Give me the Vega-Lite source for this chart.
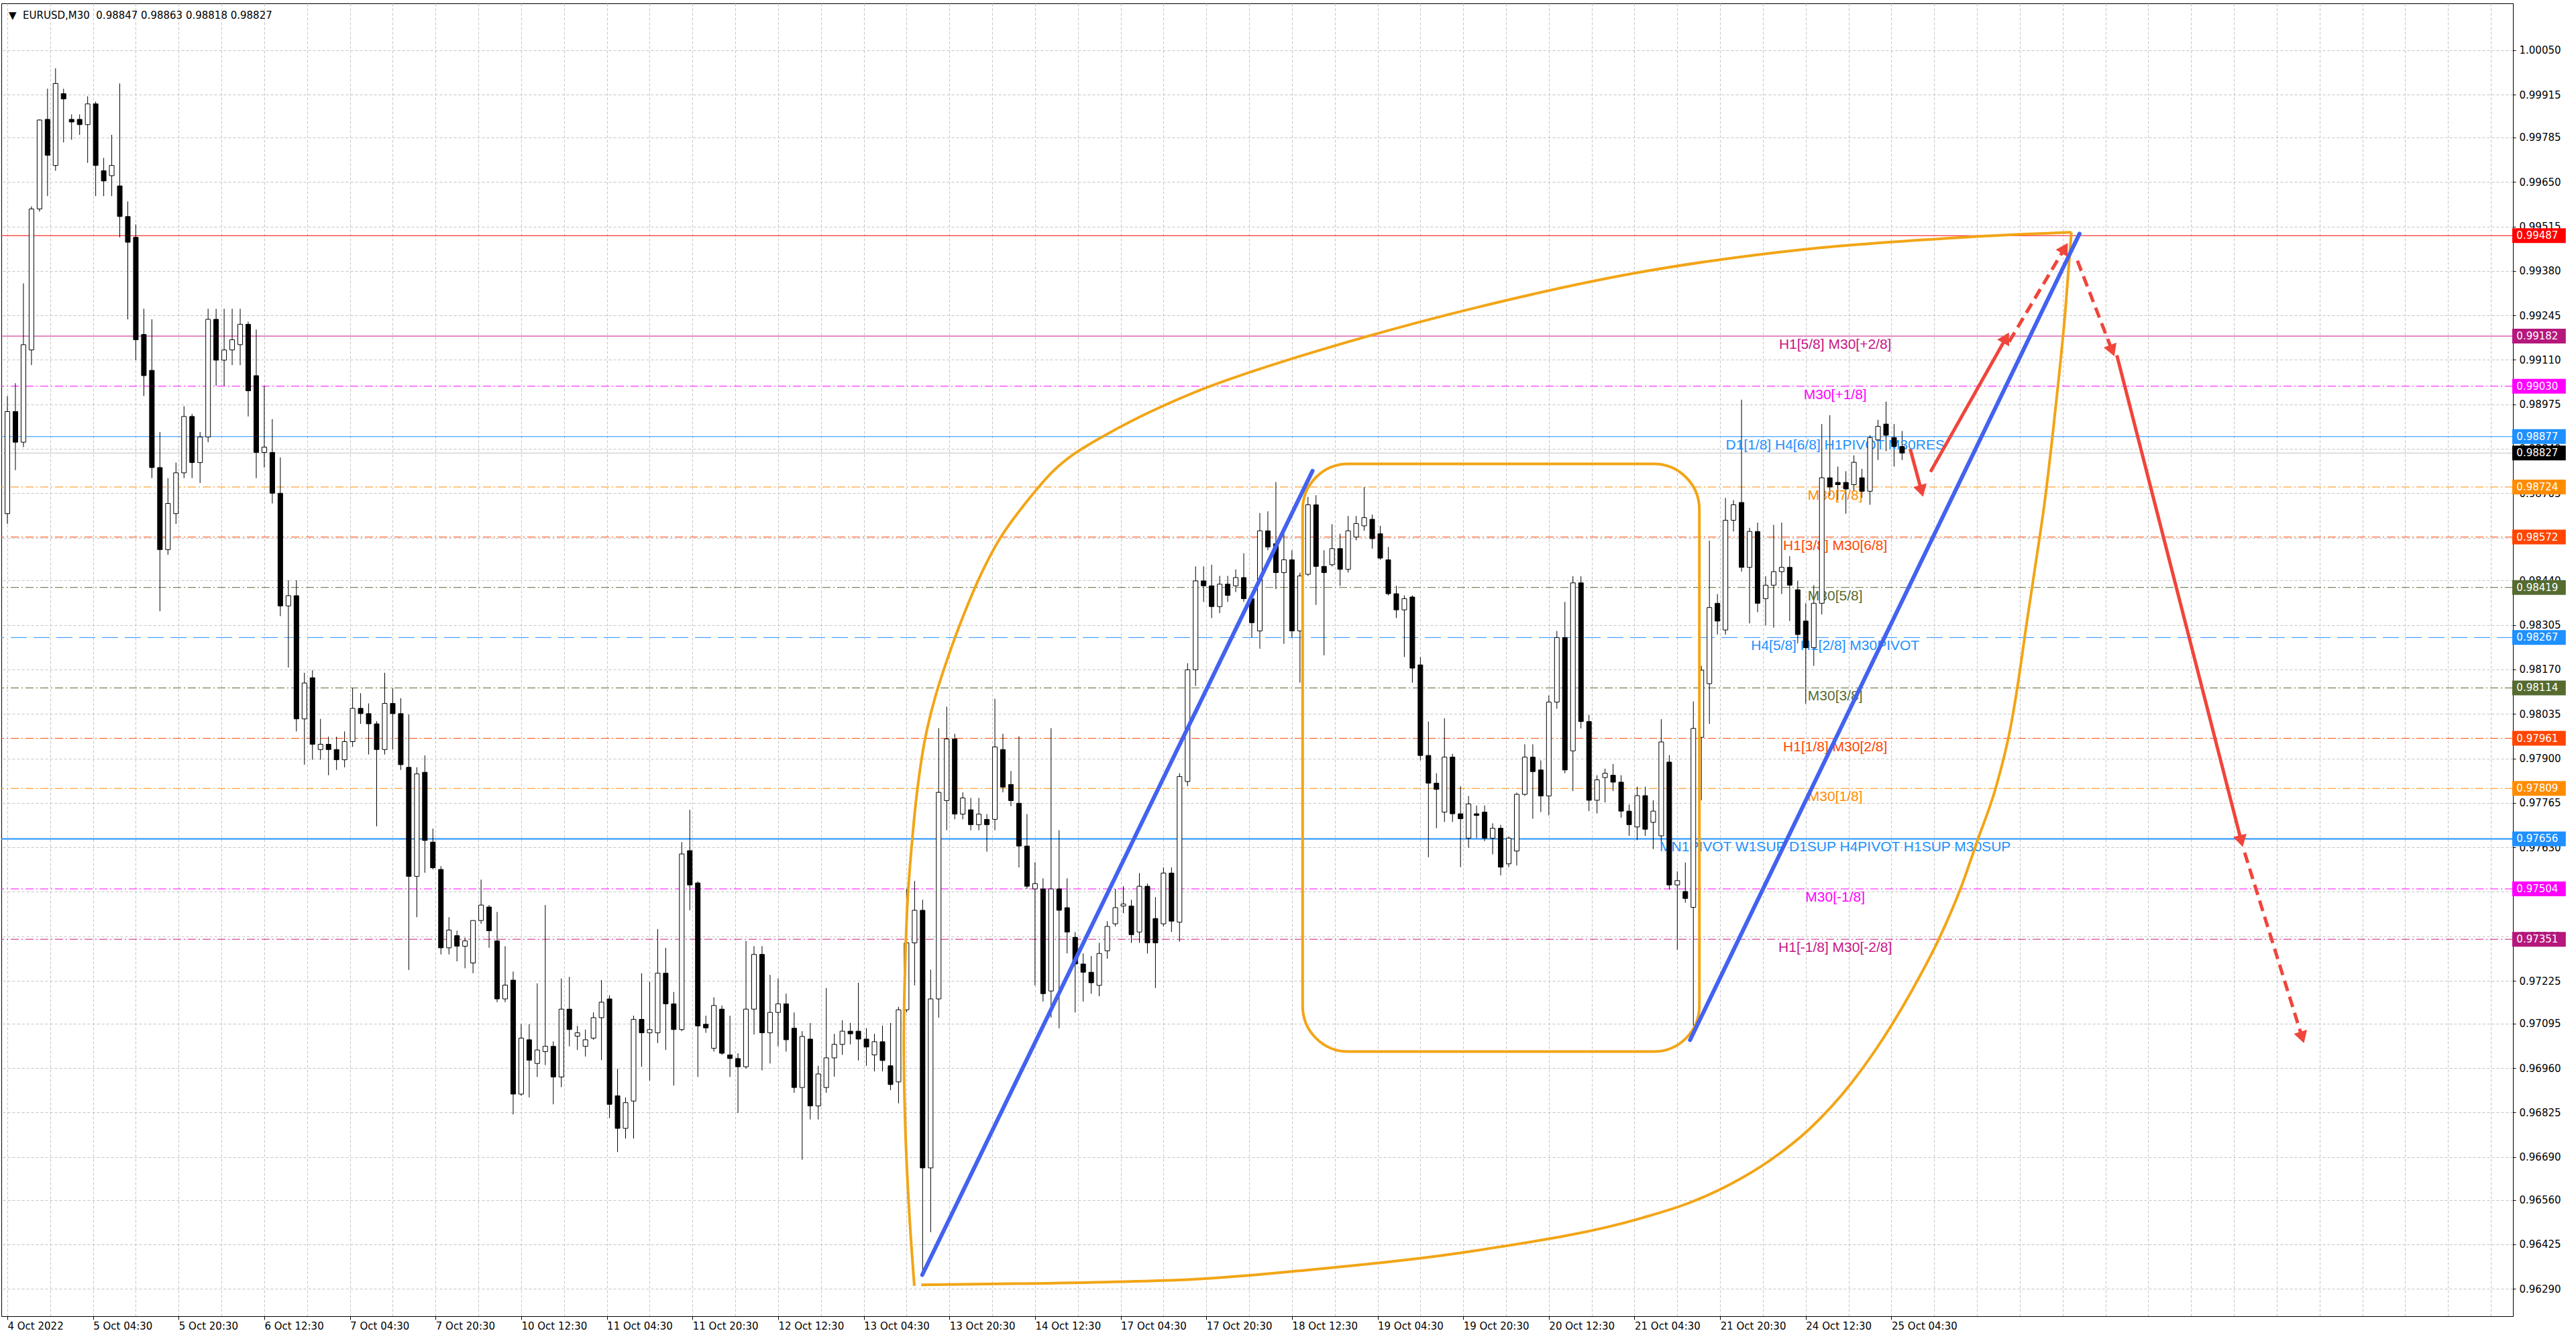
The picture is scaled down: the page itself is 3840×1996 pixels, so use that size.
{
"$schema":"https://vega.github.io/schema/vega-lite/v6.json",
"width":3744,"height":1957,
"autosize":{"type":"none"},
"padding":{"left":2,"top":5,"right":94,"bottom":34},
"background":"#ffffff",
"view":{"stroke":"#000000","strokeWidth":1},
"config":{
 "axisX":{"labelAlign":"left","labelBaseline":"top","labelPadding":2,"tickSize":5,"labelFont":"DejaVu Sans","labelFontSize":15,"labelColor":"#000000","tickColor":"#000000","domainColor":"#000000","grid":true,"gridColor":"#C4C4C4","gridDash":[4,3],"labelOverlap":false,"labelBound":false,"labelFlush":false},
 "axisY":{"labelPadding":5,"tickSize":4,"labelFont":"DejaVu Sans","labelFontSize":15,"labelColor":"#000000","tickColor":"#000000","domainColor":"#000000","grid":true,"gridColor":"#C4C4C4","gridDash":[4,3],"labelOverlap":false,"labelBound":false,"labelFlush":false}
},
"datasets":{
"header":[{"txt":"▼\u00a0\u00a0EURUSD,M30\u00a0\u00a00.98847 0.98863 0.98818 0.98827"}],
"candles":[
{"t":1,"o":0.98643,"h":0.99,"l":0.98612,"c":0.98953},{"t":4,"o":0.98953,"h":0.99039,"l":0.98775,"c":0.9886},{"t":7,"o":0.9886,"h":0.99342,"l":0.98845,"c":0.99156},{"t":10,"o":0.9914,"h":0.99576,"l":0.99094,"c":0.99568},{"t":13,"o":0.99568,"h":0.9984,"l":0.9956,"c":0.99838},{"t":16,"o":0.9984,"h":0.99933,"l":0.99607,"c":0.99731},{"t":19,"o":0.997,"h":0.99995,"l":0.99684,"c":0.99949},{"t":22,"o":0.99918,"h":0.99933,"l":0.9977,"c":0.99902},{"t":25,"o":0.9984,"h":0.99855,"l":0.99778,"c":0.99832},{"t":28,"o":0.9984,"h":0.99855,"l":0.99793,"c":0.99824},{"t":31,"o":0.99824,"h":0.9991,"l":0.99708,"c":0.99887},{"t":34,"o":0.99887,"h":0.99894,"l":0.99607,"c":0.997},{"t":37,"o":0.99684,"h":0.99723,"l":0.99607,"c":0.99653},{"t":40,"o":0.99669,"h":0.99793,"l":0.99607,"c":0.997},{"t":43,"o":0.99638,"h":0.99949,"l":0.99482,"c":0.99545},{"t":46,"o":0.99545,"h":0.99591,"l":0.99233,"c":0.99467},{"t":49,"o":0.99482,"h":0.99521,"l":0.99109,"c":0.99171},{"t":52,"o":0.99187,"h":0.99265,"l":0.99,"c":0.99062},{"t":55,"o":0.99078,"h":0.99233,"l":0.98751,"c":0.98783},{"t":58,"o":0.98783,"h":0.98891,"l":0.98347,"c":0.98534},{"t":61,"o":0.98534,"h":0.98751,"l":0.98518,"c":0.98674},{"t":64,"o":0.98643,"h":0.98798,"l":0.98612,"c":0.98767},{"t":67,"o":0.98767,"h":0.98969,"l":0.98751,"c":0.98938},{"t":70,"o":0.98938,"h":0.98946,"l":0.98751,"c":0.98798},{"t":73,"o":0.98798,"h":0.98891,"l":0.98736,"c":0.98876},{"t":76,"o":0.98876,"h":0.99265,"l":0.9886,"c":0.99233},{"t":79,"o":0.99233,"h":0.99265,"l":0.99031,"c":0.99109},{"t":82,"o":0.99109,"h":0.99265,"l":0.99031,"c":0.9914},{"t":85,"o":0.9914,"h":0.99265,"l":0.99094,"c":0.99171},{"t":88,"o":0.99156,"h":0.99265,"l":0.99094,"c":0.99218},{"t":91,"o":0.99218,"h":0.99226,"l":0.98938,"c":0.99016},{"t":94,"o":0.99062,"h":0.99202,"l":0.98751,"c":0.98829},{"t":97,"o":0.98829,"h":0.99031,"l":0.98783,"c":0.98845},{"t":100,"o":0.98829,"h":0.9893,"l":0.98674,"c":0.98705},{"t":103,"o":0.98705,"h":0.98814,"l":0.98332,"c":0.98363},{"t":106,"o":0.98363,"h":0.98441,"l":0.98176,"c":0.98394},{"t":109,"o":0.98394,"h":0.98441,"l":0.97982,"c":0.9802},{"t":112,"o":0.9802,"h":0.9816,"l":0.97881,"c":0.98129},{"t":115,"o":0.98145,"h":0.98168,"l":0.97896,"c":0.97943},{"t":118,"o":0.97927,"h":0.9802,"l":0.97896,"c":0.97943},{"t":121,"o":0.97943,"h":0.97966,"l":0.97849,"c":0.97927},{"t":124,"o":0.97927,"h":0.97966,"l":0.97865,"c":0.97896},{"t":127,"o":0.97896,"h":0.97982,"l":0.97873,"c":0.97951},{"t":130,"o":0.97951,"h":0.98114,"l":0.97935,"c":0.98052},{"t":133,"o":0.98052,"h":0.98098,"l":0.98005,"c":0.98036},{"t":136,"o":0.98036,"h":0.98067,"l":0.97912,"c":0.98005},{"t":139,"o":0.98005,"h":0.98013,"l":0.97694,"c":0.97927},{"t":142,"o":0.97927,"h":0.9816,"l":0.97912,"c":0.98067},{"t":145,"o":0.98067,"h":0.98114,"l":0.97927,"c":0.98036},{"t":148,"o":0.98036,"h":0.98083,"l":0.97865,"c":0.97881},
{"t":151,"o":0.97873,"h":0.98033,"l":0.97258,"c":0.97542},{"t":154,"o":0.97542,"h":0.97873,"l":0.97418,"c":0.97853},{"t":157,"o":0.97858,"h":0.97909,"l":0.97553,"c":0.97651},{"t":160,"o":0.97646,"h":0.97687,"l":0.97563,"c":0.97568},{"t":163,"o":0.97563,"h":0.97573,"l":0.97305,"c":0.97325},{"t":166,"o":0.97325,"h":0.97418,"l":0.97305,"c":0.97379},{"t":169,"o":0.97362,"h":0.97377,"l":0.97284,"c":0.9733},{"t":172,"o":0.9733,"h":0.97356,"l":0.97263,"c":0.97346},{"t":175,"o":0.97279,"h":0.97408,"l":0.97248,"c":0.97408},{"t":178,"o":0.97408,"h":0.97532,"l":0.97398,"c":0.97455},{"t":181,"o":0.97449,"h":0.97455,"l":0.97325,"c":0.97377},{"t":184,"o":0.97346,"h":0.97434,"l":0.9716,"c":0.9717},{"t":187,"o":0.9717,"h":0.9733,"l":0.9716,"c":0.97212},{"t":190,"o":0.97227,"h":0.97253,"l":0.96819,"c":0.96881},{"t":193,"o":0.96881,"h":0.97093,"l":0.96876,"c":0.97051},{"t":196,"o":0.97046,"h":0.97093,"l":0.96871,"c":0.96984},{"t":199,"o":0.96974,"h":0.97217,"l":0.96933,"c":0.97015},{"t":202,"o":0.9701,"h":0.97455,"l":0.96969,"c":0.97026},{"t":205,"o":0.97026,"h":0.97041,"l":0.9685,"c":0.96933},{"t":208,"o":0.96933,"h":0.97232,"l":0.96902,"c":0.97139},{"t":211,"o":0.97139,"h":0.97237,"l":0.97026,"c":0.97077},{"t":214,"o":0.97057,"h":0.97088,"l":0.97015,"c":0.97067},{"t":217,"o":0.97026,"h":0.97077,"l":0.96995,"c":0.97046},{"t":220,"o":0.97051,"h":0.97129,"l":0.97046,"c":0.97113},{"t":223,"o":0.97113,"h":0.97227,"l":0.96984,"c":0.9716},{"t":226,"o":0.9717,"h":0.97181,"l":0.96808,"c":0.9685},{"t":229,"o":0.96876,"h":0.96958,"l":0.96705,"c":0.96777},{"t":232,"o":0.96777,"h":0.96871,"l":0.96746,"c":0.96855},{"t":235,"o":0.9686,"h":0.97119,"l":0.96746,"c":0.97108},{"t":238,"o":0.97108,"h":0.97248,"l":0.96964,"c":0.97067},{"t":241,"o":0.97067,"h":0.97222,"l":0.96922,"c":0.97077},{"t":244,"o":0.97067,"h":0.97382,"l":0.97036,"c":0.97248},{"t":247,"o":0.97248,"h":0.97325,"l":0.97015,"c":0.97155},{"t":250,"o":0.97155,"h":0.97191,"l":0.96907,"c":0.97077},{"t":253,"o":0.97077,"h":0.97646,"l":0.97072,"c":0.9761},{"t":256,"o":0.9762,"h":0.97744,"l":0.97439,"c":0.97516},{"t":259,"o":0.97522,"h":0.97527,"l":0.96933,"c":0.97088},{"t":262,"o":0.97093,"h":0.97119,"l":0.97067,"c":0.97082},{"t":265,"o":0.9702,"h":0.97175,"l":0.9701,"c":0.9715},{"t":268,"o":0.97139,"h":0.9715,"l":0.97,"c":0.97005},{"t":271,"o":0.97,"h":0.97119,"l":0.96933,"c":0.96989},{"t":274,"o":0.96989,"h":0.97005,"l":0.96824,"c":0.96964},{"t":277,"o":0.96964,"h":0.97346,"l":0.96958,"c":0.97139},{"t":280,"o":0.97139,"h":0.9733,"l":0.97062,"c":0.97305},{"t":283,"o":0.97305,"h":0.9733,"l":0.96953,"c":0.97067},{"t":286,"o":0.97067,"h":0.97243,"l":0.96974,"c":0.97129},{"t":289,"o":0.97129,"h":0.97232,"l":0.97026,"c":0.97155},{"t":292,"o":0.97155,"h":0.97186,"l":0.9701,"c":0.97046},
{"t":295,"o":0.97081,"h":0.97129,"l":0.96885,"c":0.96901},{"t":298,"o":0.96901,"h":0.97072,"l":0.96682,"c":0.97056},{"t":301,"o":0.97048,"h":0.97097,"l":0.96804,"c":0.96845},{"t":304,"o":0.96845,"h":0.96967,"l":0.96804,"c":0.96942},{"t":307,"o":0.96901,"h":0.97203,"l":0.96885,"c":0.96991},{"t":310,"o":0.96991,"h":0.97064,"l":0.96934,"c":0.97032},{"t":313,"o":0.97032,"h":0.97105,"l":0.97,"c":0.97072},{"t":316,"o":0.97072,"h":0.97097,"l":0.97032,"c":0.97064},{"t":319,"o":0.97072,"h":0.97219,"l":0.96983,"c":0.97048},{"t":322,"o":0.97048,"h":0.97081,"l":0.96967,"c":0.97024},{"t":325,"o":0.97,"h":0.97064,"l":0.9695,"c":0.9704},{"t":328,"o":0.9704,"h":0.97089,"l":0.9695,"c":0.96983},{"t":331,"o":0.96967,"h":0.97097,"l":0.96893,"c":0.9691},{"t":334,"o":0.96918,"h":0.97146,"l":0.96853,"c":0.97137},{"t":337,"o":0.97137,"h":0.97504,"l":0.97129,"c":0.9734},{"t":340,"o":0.9734,"h":0.97528,"l":0.97211,"c":0.97439},{"t":343,"o":0.97439,"h":0.97471,"l":0.96332,"c":0.96657},{"t":346,"o":0.96657,"h":0.97259,"l":0.96462,"c":0.9717},{"t":349,"o":0.9717,"h":0.97992,"l":0.97113,"c":0.97797},{"t":352,"o":0.97772,"h":0.98057,"l":0.97682,"c":0.97959},{"t":355,"o":0.97959,"h":0.97975,"l":0.97715,"c":0.97731},{"t":358,"o":0.97731,"h":0.97797,"l":0.97715,"c":0.9778},{"t":361,"o":0.97744,"h":0.9778,"l":0.97682,"c":0.97699},{"t":364,"o":0.97699,"h":0.9778,"l":0.97682,"c":0.97731},{"t":367,"o":0.97715,"h":0.97731,"l":0.97617,"c":0.97699},{"t":370,"o":0.97715,"h":0.98081,"l":0.97682,"c":0.97935},{"t":373,"o":0.97927,"h":0.97975,"l":0.97797,"c":0.97813},{"t":376,"o":0.97821,"h":0.97862,"l":0.97755,"c":0.97772},{"t":379,"o":0.97764,"h":0.97967,"l":0.97569,"c":0.97634},{"t":382,"o":0.97634,"h":0.97731,"l":0.97504,"c":0.97512},{"t":385,"o":0.97504,"h":0.97585,"l":0.97211,"c":0.9752},{"t":388,"o":0.97504,"h":0.97536,"l":0.97162,"c":0.97186},{"t":391,"o":0.97194,"h":0.97992,"l":0.97113,"c":0.97504},{"t":394,"o":0.97504,"h":0.97682,"l":0.97081,"c":0.97439},{"t":397,"o":0.97447,"h":0.97536,"l":0.97308,"c":0.97373},{"t":400,"o":0.97357,"h":0.97373,"l":0.97129,"c":0.97276},{"t":403,"o":0.97276,"h":0.97308,"l":0.97162,"c":0.97251},{"t":406,"o":0.97251,"h":0.973,"l":0.97186,"c":0.97219},{"t":409,"o":0.97211,"h":0.9734,"l":0.97178,"c":0.97308},{"t":412,"o":0.97316,"h":0.97406,"l":0.97292,"c":0.9739},{"t":415,"o":0.97398,"h":0.97504,"l":0.9739,"c":0.97447},{"t":418,"o":0.97452,"h":0.97512,"l":0.9743,"c":0.97458},{"t":421,"o":0.97452,"h":0.97471,"l":0.9734,"c":0.97365},{"t":424,"o":0.97373,"h":0.97552,"l":0.9734,"c":0.97512},{"t":427,"o":0.97512,"h":0.9752,"l":0.97308,"c":0.9734},{"t":430,"o":0.97414,"h":0.97479,"l":0.97203,"c":0.9734},{"t":433,"o":0.97398,"h":0.97569,"l":0.9739,"c":0.97552},{"t":436,"o":0.97552,"h":0.97569,"l":0.97373,"c":0.97406},
{"t":439,"o":0.97403,"h":0.97855,"l":0.97344,"c":0.97845},{"t":442,"o":0.9783,"h":0.98189,"l":0.97816,"c":0.98169},{"t":445,"o":0.98169,"h":0.98483,"l":0.9812,"c":0.98439},{"t":448,"o":0.98439,"h":0.98483,"l":0.98375,"c":0.98424},{"t":451,"o":0.98424,"h":0.98488,"l":0.98326,"c":0.98361},{"t":454,"o":0.98361,"h":0.98454,"l":0.98341,"c":0.98429},{"t":457,"o":0.98429,"h":0.98454,"l":0.98375,"c":0.98395},{"t":460,"o":0.98424,"h":0.98474,"l":0.98405,"c":0.98449},{"t":463,"o":0.98449,"h":0.98523,"l":0.98375,"c":0.98385},{"t":466,"o":0.98385,"h":0.98395,"l":0.98267,"c":0.98312},{"t":469,"o":0.98287,"h":0.98645,"l":0.98233,"c":0.98591},{"t":472,"o":0.98591,"h":0.9865,"l":0.98532,"c":0.98542},{"t":475,"o":0.98552,"h":0.98739,"l":0.98414,"c":0.98464},{"t":478,"o":0.98464,"h":0.98582,"l":0.98248,"c":0.98503},{"t":481,"o":0.98503,"h":0.98532,"l":0.98267,"c":0.98287},{"t":484,"o":0.98287,"h":0.98464,"l":0.9813,"c":0.98454},{"t":487,"o":0.98459,"h":0.98694,"l":0.98454,"c":0.9867},{"t":490,"o":0.9867,"h":0.98699,"l":0.98366,"c":0.98483},{"t":493,"o":0.98483,"h":0.98532,"l":0.98213,"c":0.98464},{"t":496,"o":0.98488,"h":0.98611,"l":0.98483,"c":0.98537},{"t":499,"o":0.98537,"h":0.98582,"l":0.98424,"c":0.98474},{"t":502,"o":0.98474,"h":0.98636,"l":0.98464,"c":0.98591},{"t":505,"o":0.98572,"h":0.98636,"l":0.98562,"c":0.98613},{"t":508,"o":0.98606,"h":0.98724,"l":0.98591,"c":0.98631},{"t":511,"o":0.98626,"h":0.9864,"l":0.98537,"c":0.98567},{"t":514,"o":0.98582,"h":0.98606,"l":0.98503,"c":0.98508},{"t":517,"o":0.98503,"h":0.98542,"l":0.98395,"c":0.984},{"t":520,"o":0.984,"h":0.98424,"l":0.98326,"c":0.98351},{"t":523,"o":0.98351,"h":0.98395,"l":0.98208,"c":0.98385},{"t":526,"o":0.9839,"h":0.98395,"l":0.9813,"c":0.98174},{"t":529,"o":0.98184,"h":0.98208,"l":0.97894,"c":0.97909},{"t":532,"o":0.97909,"h":0.98012,"l":0.976,"c":0.97825},{"t":535,"o":0.97825,"h":0.97855,"l":0.97688,"c":0.97806},{"t":538,"o":0.97737,"h":0.98022,"l":0.97707,"c":0.97904},{"t":541,"o":0.97904,"h":0.97914,"l":0.97707,"c":0.97732},{"t":544,"o":0.97732,"h":0.97816,"l":0.9757,"c":0.97717},{"t":547,"o":0.97658,"h":0.97786,"l":0.97629,"c":0.97762},{"t":550,"o":0.97732,"h":0.97757,"l":0.97658,"c":0.97727},{"t":553,"o":0.97737,"h":0.97757,"l":0.97649,"c":0.97658},{"t":556,"o":0.97658,"h":0.97703,"l":0.97609,"c":0.97688},{"t":559,"o":0.97688,"h":0.97698,"l":0.97545,"c":0.9757},{"t":562,"o":0.9758,"h":0.97663,"l":0.9757,"c":0.97658},{"t":565,"o":0.97619,"h":0.97796,"l":0.97575,"c":0.97791},{"t":568,"o":0.97791,"h":0.97943,"l":0.97786,"c":0.97904},{"t":571,"o":0.97904,"h":0.97943,"l":0.97717,"c":0.9786},{"t":574,"o":0.97865,"h":0.97894,"l":0.97737,"c":0.97786},{"t":577,"o":0.97786,"h":0.98091,"l":0.97727,"c":0.98071},{"t":580,"o":0.98071,"h":0.98287,"l":0.98051,"c":0.98267},{"t":583,"o":0.98267,"h":0.98375,"l":0.97855,"c":0.97865},
{"t":586,"o":0.97923,"h":0.98453,"l":0.97801,"c":0.98433},{"t":589,"o":0.98433,"h":0.98453,"l":0.97991,"c":0.98012},{"t":592,"o":0.98012,"h":0.98032,"l":0.9774,"c":0.97773},{"t":595,"o":0.97773,"h":0.97849,"l":0.97733,"c":0.97835},{"t":598,"o":0.97842,"h":0.97869,"l":0.97767,"c":0.97855},{"t":601,"o":0.97849,"h":0.97883,"l":0.97801,"c":0.97828},{"t":604,"o":0.97828,"h":0.97849,"l":0.9772,"c":0.9774},{"t":607,"o":0.9774,"h":0.9776,"l":0.97665,"c":0.97699},{"t":610,"o":0.97692,"h":0.97814,"l":0.97652,"c":0.97787},{"t":613,"o":0.97787,"h":0.97814,"l":0.97665,"c":0.97685},{"t":616,"o":0.97706,"h":0.97773,"l":0.97625,"c":0.9774},{"t":619,"o":0.97665,"h":0.98019,"l":0.97638,"c":0.9795},{"t":622,"o":0.97889,"h":0.9791,"l":0.97502,"c":0.97516},{"t":625,"o":0.97516,"h":0.97557,"l":0.97319,"c":0.97529},{"t":628,"o":0.97496,"h":0.97584,"l":0.97462,"c":0.97475},{"t":631,"o":0.97448,"h":0.98073,"l":0.97088,"c":0.97991},{"t":634,"o":0.97964,"h":0.98181,"l":0.97773,"c":0.98168},{"t":637,"o":0.98127,"h":0.98561,"l":0.98005,"c":0.98358},{"t":640,"o":0.98371,"h":0.98399,"l":0.98276,"c":0.98317},{"t":643,"o":0.9829,"h":0.98691,"l":0.98276,"c":0.98623},{"t":646,"o":0.98623,"h":0.98684,"l":0.98589,"c":0.9867},{"t":649,"o":0.98677,"h":0.98989,"l":0.98467,"c":0.9848},{"t":652,"o":0.9848,"h":0.986,"l":0.9831,"c":0.98589},{"t":655,"o":0.98589,"h":0.98616,"l":0.98344,"c":0.98371},{"t":658,"o":0.98385,"h":0.98453,"l":0.98304,"c":0.98426},{"t":661,"o":0.98426,"h":0.98609,"l":0.98297,"c":0.98467},{"t":664,"o":0.98467,"h":0.98616,"l":0.98399,"c":0.9848},{"t":667,"o":0.9848,"h":0.98514,"l":0.98317,"c":0.98426},{"t":670,"o":0.98412,"h":0.98439,"l":0.98249,"c":0.98276},{"t":673,"o":0.98317,"h":0.98371,"l":0.98066,"c":0.98236},{"t":676,"o":0.98236,"h":0.98426,"l":0.98181,"c":0.98371},{"t":679,"o":0.98371,"h":0.98915,"l":0.98337,"c":0.98752},{"t":682,"o":0.98752,"h":0.98942,"l":0.98697,"c":0.98724},{"t":685,"o":0.98738,"h":0.98786,"l":0.98684,"c":0.98731},{"t":688,"o":0.98738,"h":0.98772,"l":0.98643,"c":0.98718},{"t":691,"o":0.98731,"h":0.9882,"l":0.98711,"c":0.98799},{"t":694,"o":0.98752,"h":0.98779,"l":0.98691,"c":0.98711},{"t":697,"o":0.98711,"h":0.98881,"l":0.9867,"c":0.98874},{"t":700,"o":0.98867,"h":0.98928,"l":0.98806,"c":0.98908},{"t":703,"o":0.98915,"h":0.98983,"l":0.98833,"c":0.98881},{"t":706,"o":0.98874,"h":0.98915,"l":0.98786,"c":0.98847},{"t":709,"o":0.98847,"h":0.98894,"l":0.98806,"c":0.98827}
],
"levels":[
{"id":"L1","p":0.99487,"label":""},{"id":"L2","p":0.99182,"label":"H1[5/8] M30[+2/8]"},{"id":"L3","p":0.9903,"label":"M30[+1/8]"},{"id":"L4","p":0.98877,"label":"D1[1/8] H4[6/8] H1PIVOT M30RES"},{"id":"L5","p":0.98827,"label":""},{"id":"L6","p":0.98724,"label":"M30[7/8]"},{"id":"L7","p":0.98572,"label":"H1[3/8] M30[6/8]"},{"id":"L8","p":0.98419,"label":"M30[5/8]"},{"id":"L9","p":0.98267,"label":"H4[5/8] H1[2/8] M30PIVOT"},{"id":"L10","p":0.98114,"label":"M30[3/8]"},{"id":"L11","p":0.97961,"label":"H1[1/8] M30[2/8]"},{"id":"L12","p":0.97809,"label":"M30[1/8]"},{"id":"L13","p":0.97656,"label":"MN1PIVOT W1SUP D1SUP H4PIVOT H1SUP M30SUP"},{"id":"L14","p":0.97504,"label":"M30[-1/8]"},{"id":"L15","p":0.97351,"label":"H1[-1/8] M30[-2/8]"}
],
"box":[{"t1":485,"t2":633.25,"p1":0.98794,"p2":0.9701}],
"upperArc":[
{"k":0,"t":339.9,"p":0.96299},{"k":1,"t":338.2,"p":0.96495},{"k":2,"t":336.7,"p":0.96739},{"k":3,"t":336.0,"p":0.96983},{"k":4,"t":336.1,"p":0.97146},{"k":5,"t":336.6,"p":0.97308},{"k":6,"t":337.4,"p":0.97471},{"k":7,"t":338.9,"p":0.97634},{"k":8,"t":340.9,"p":0.97797},{"k":9,"t":343.9,"p":0.97959},{"k":10,"t":347.8,"p":0.98089},{"k":11,"t":352.3,"p":0.98203},{"k":12,"t":358.2,"p":0.98333},{"k":13,"t":365.1,"p":0.98464},{"k":14,"t":372.0,"p":0.98569},{"k":15,"t":379.9,"p":0.98659},{"k":16,"t":391.75,"p":0.98772},{"k":17,"t":399.5,"p":0.98824},{"k":18,"t":412,"p":0.98885},{"k":19,"t":428,"p":0.98952},{"k":20,"t":449.5,"p":0.99027},{"k":21,"t":489.25,"p":0.99134},{"k":22,"t":550.5,"p":0.9927},{"k":23,"t":611.75,"p":0.99377},{"k":24,"t":673,"p":0.99446},{"k":25,"t":734.25,"p":0.99483},{"k":26,"t":772.25,"p":0.99497}
],
"lowerArc":[
{"t":342.5,"p":0.96302},{"t":442,"p":0.96318},{"t":489.25,"p":0.96349},{"t":550.5,"p":0.96407},{"t":611.75,"p":0.96505},{"t":629.5,"p":0.96551},{"t":644.5,"p":0.96606},{"t":659.5,"p":0.96679},{"t":674.5,"p":0.96776},{"t":690,"p":0.96914},{"t":712.5,"p":0.97193},{"t":723,"p":0.97356},{"t":730.75,"p":0.97503},{"t":737.25,"p":0.97653},{"t":744,"p":0.97811},{"t":749.75,"p":0.98004},{"t":752.25,"p":0.98125},{"t":755.5,"p":0.98308},{"t":759.25,"p":0.9851},{"t":762,"p":0.98662},{"t":766.5,"p":0.98976},{"t":770,"p":0.9926},{"t":772.25,"p":0.99497}
],
"trend":[{"seg":"b1","t":342.85,"p":0.96332},{"seg":"b1","t":488.7,"p":0.98773},{"seg":"b2","t":629.75,"p":0.97045},{"seg":"b2","t":775.3,"p":0.99493}],
"arrows":[
{"a":"a1","kind":"solid","t":712,"p":0.9884},{"a":"a1","kind":"solid","t":716.25,"p":0.98712},
{"a":"a2","kind":"solid","t":719.6,"p":0.9877},{"a":"a2","kind":"solid","t":747.85,"p":0.99177},
{"a":"a3","kind":"dashed","t":749,"p":0.99165},{"a":"a3","kind":"dashed","t":769.75,"p":0.99449},
{"a":"a4","kind":"dashed","t":774.5,"p":0.99411},{"a":"a4","kind":"dashed","t":787.5,"p":0.99138},
{"a":"a5","kind":"solid","t":789.25,"p":0.99124},{"a":"a5","kind":"solid","t":835.75,"p":0.97649},
{"a":"a6","kind":"dashed","t":837,"p":0.97614},{"a":"a6","kind":"dashed","t":858.5,"p":0.97053}
],
"heads":[{"t":716.25,"p":0.98712,"ang":165},{"t":747.85,"p":0.99177,"ang":29},{"t":769.75,"p":0.99449,"ang":31},{"t":787.5,"p":0.99138,"ang":159},{"t":835.75,"p":0.97649,"ang":166},{"t":858.5,"p":0.97053,"ang":163}]
},
"layer":[
{"data":{"name":"levels"},
 "mark":{"type":"rule"},
 "encoding":{
  "y":{"field":"p","type":"quantitative","scale":{"domain":[0.96217,1.00182],"nice":false,"zero":false},"axis":{"orient":"right","title":null,"format":".5f","values":[1.0005,0.99915,0.99785,0.9965,0.99515,0.9938,0.99245,0.9911,0.98975,0.9884,0.98705,0.9857,0.9844,0.98305,0.9817,0.98035,0.979,0.97765,0.9763,0.97495,0.9736,0.97225,0.97095,0.9696,0.96825,0.9669,0.9656,0.96425,0.9629]}},
  "color":{"field":"id","type":"nominal","scale":{"domain":["L1","L2","L3","L4","L5","L6","L7","L8","L9","L10","L11","L12","L13","L14","L15"],"range":["#FF0000","#C71585","#FF00FF","#1E90FF","#C0C0C0","#FF8C00","#FF4500","#556B2F","#1E90FF","#556B2F","#FF4500","#FF8C00","#1E90FF","#FF00FF","#C71585"]},"legend":null},
  "strokeDash":{"field":"id","type":"nominal","scale":{"domain":["L1","L2","L3","L4","L5","L6","L7","L8","L9","L10","L11","L12","L13","L14","L15"],"range":[[1,0],[1,0],[12,4,2,4],[1,0],[1,0],[12,4,2,4],[12,4,2,4],[12,4,2,4],[24,10],[12,4,2,4],[12,4,2,4],[12,4,2,4],[1,0],[12,4,2,4],[12,4,2,4]]},"legend":null},
  "strokeWidth":{"condition":{"test":"datum.id == 'L13'","value":2},"value":1}
 }},
{"data":{"name":"candles"},
 "mark":{"type":"rule","color":"#000000","strokeWidth":1},
 "encoding":{
  "x":{"field":"t","type":"quantitative","scale":{"domain":[0,936],"nice":false,"zero":false},"axis":{"orient":"bottom","title":null,"values":[1,17,33,49,65,81,97,113,129,145,161,177,193,209,225,241,257,273,289,305,321,337,353,369,385,401,417,433,449,465,481,497,513,529,545,561,577,593,609,625,641,657,673,689,705,721,737,753,769,785,801,817,833,849,865,881,897,913,929],"labelExpr":"(datum.value % 32 == 1 && datum.value <= 705) ? ['4 Oct 2022','5 Oct 04:30','5 Oct 20:30','6 Oct 12:30','7 Oct 04:30','7 Oct 20:30','10 Oct 12:30','11 Oct 04:30','11 Oct 20:30','12 Oct 12:30','13 Oct 04:30','13 Oct 20:30','14 Oct 12:30','17 Oct 04:30','17 Oct 20:30','18 Oct 12:30','19 Oct 04:30','19 Oct 20:30','20 Oct 12:30','21 Oct 04:30','21 Oct 20:30','24 Oct 12:30','25 Oct 04:30'][(datum.value - 1) / 32] : ''","tickOpacity":{"condition":{"test":"datum.value % 32 == 1 && datum.value <= 705","value":1},"value":0}}},
  "y":{"field":"l","type":"quantitative","scale":{"domain":[0.96217,1.00182],"nice":false,"zero":false},"axis":{"orient":"right","title":null,"format":".5f","values":[1.0005,0.99915,0.99785,0.9965,0.99515,0.9938,0.99245,0.9911,0.98975,0.9884,0.98705,0.9857,0.9844,0.98305,0.9817,0.98035,0.979,0.97765,0.9763,0.97495,0.9736,0.97225,0.97095,0.9696,0.96825,0.9669,0.9656,0.96425,0.9629]}},
  "y2":{"field":"h"}
 }},
{"data":{"name":"levels"},
 "transform":[{"filter":"datum.label != ''"}],
 "mark":{"type":"text","font":"Liberation Sans","fontSize":21,"align":"center","baseline":"top","dy":2},
 "encoding":{
  "x":{"datum":684,"type":"quantitative"},
  "y":{"field":"p","type":"quantitative"},
  "text":{"field":"label"},
  "color":{"field":"id","type":"nominal","scale":{"domain":["L1","L2","L3","L4","L5","L6","L7","L8","L9","L10","L11","L12","L13","L14","L15"],"range":["#FF0000","#C71585","#FF00FF","#1E90FF","#C0C0C0","#FF8C00","#FF4500","#556B2F","#1E90FF","#556B2F","#FF4500","#FF8C00","#1E90FF","#FF00FF","#C71585"]},"legend":null}
 }},
{"data":{"name":"candles"},
 "mark":{"type":"bar","size":7,"stroke":"#000000","strokeWidth":1},
 "encoding":{
  "x":{"field":"t","type":"quantitative"},
  "y":{"field":"o","type":"quantitative"},
  "y2":{"field":"c"},
  "fill":{"condition":{"test":"datum.c >= datum.o","value":"#FFFFFF"},"value":"#000000"}
 }},
{"data":{"name":"box"},
 "mark":{"type":"rect","fill":"transparent","stroke":"#F2A516","strokeWidth":4,"cornerRadius":68},
 "encoding":{
  "x":{"field":"t1","type":"quantitative"},
  "x2":{"field":"t2"},
  "y":{"field":"p1","type":"quantitative"},
  "y2":{"field":"p2"}
 }},
{"data":{"name":"upperArc"},
 "mark":{"type":"line","color":"#F2A516","strokeWidth":4,"interpolate":"catmull-rom"},
 "encoding":{
  "x":{"field":"t","type":"quantitative"},
  "y":{"field":"p","type":"quantitative"},
  "order":{"field":"k","type":"quantitative"}
 }},
{"data":{"name":"lowerArc"},
 "mark":{"type":"line","color":"#F2A516","strokeWidth":4,"interpolate":"monotone"},
 "encoding":{
  "x":{"field":"t","type":"quantitative"},
  "y":{"field":"p","type":"quantitative"}
 }},
{"data":{"name":"trend"},
 "mark":{"type":"line","color":"#4362EF","strokeWidth":6,"strokeCap":"round"},
 "encoding":{
  "x":{"field":"t","type":"quantitative"},
  "y":{"field":"p","type":"quantitative"},
  "detail":{"field":"seg"}
 }},
{"data":{"name":"arrows"},
 "transform":[{"filter":"datum.kind == 'solid'"}],
 "mark":{"type":"line","color":"#F0453B","strokeWidth":5},
 "encoding":{
  "x":{"field":"t","type":"quantitative"},
  "y":{"field":"p","type":"quantitative"},
  "detail":{"field":"a"}
 }},
{"data":{"name":"arrows"},
 "transform":[{"filter":"datum.kind == 'dashed'"}],
 "mark":{"type":"line","color":"#F0453B","strokeWidth":5,"strokeDash":[16,9]},
 "encoding":{
  "x":{"field":"t","type":"quantitative"},
  "y":{"field":"p","type":"quantitative"},
  "detail":{"field":"a"}
 }},
{"data":{"name":"heads"},
 "mark":{"type":"point","shape":"triangle-up","filled":true,"color":"#F0453B","size":420,"opacity":1},
 "encoding":{
  "x":{"field":"t","type":"quantitative"},
  "y":{"field":"p","type":"quantitative"},
  "angle":{"field":"ang","type":"quantitative","scale":null}
 }},
{"data":{"name":"levels"},
 "mark":{"type":"bar","size":22},
 "encoding":{
  "x":{"datum":937,"type":"quantitative"},
  "x2":{"datum":957},
  "y":{"field":"p","type":"quantitative"},
  "fill":{"field":"id","type":"nominal","scale":{"domain":["L1","L2","L3","L4","L5","L6","L7","L8","L9","L10","L11","L12","L13","L14","L15"],"range":["#FF0000","#B5177C","#FF00FF","#1E90FF","#000000","#FF8C00","#FF4500","#556B2F","#1E90FF","#556B2F","#FF4500","#FF8C00","#1E90FF","#FF00FF","#B5177C"]},"legend":null}
 }},
{"data":{"name":"levels"},
 "mark":{"type":"text","font":"DejaVu Sans","fontSize":15,"align":"left","baseline":"middle","color":"#FFFFFF"},
 "encoding":{
  "x":{"datum":938.6,"type":"quantitative"},
  "y":{"field":"p","type":"quantitative"},
  "text":{"field":"p","type":"quantitative","format":".5f"}
 }},
{"data":{"name":"header"},
 "mark":{"type":"text","font":"DejaVu Sans","fontSize":15,"align":"left","baseline":"middle","color":"#000000"},
 "encoding":{
  "x":{"datum":1.5,"type":"quantitative"},
  "y":{"datum":1.00155,"type":"quantitative"},
  "text":{"field":"txt"}
 }}
]
}
